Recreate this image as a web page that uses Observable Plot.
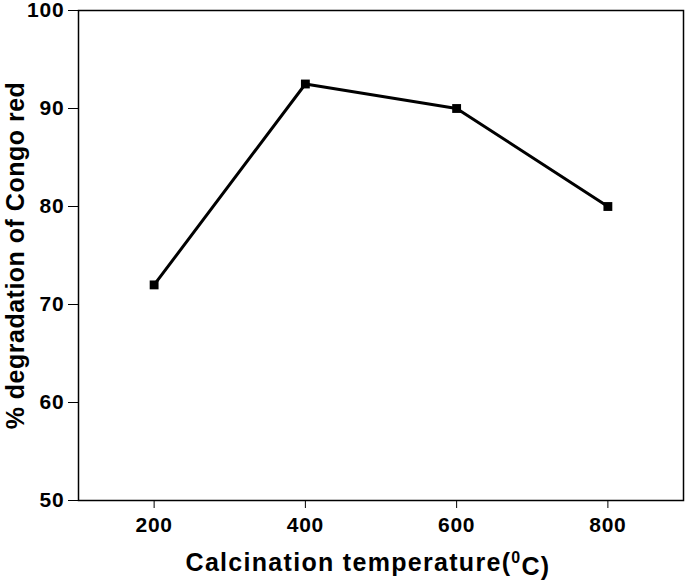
<!DOCTYPE html>
<html>
<head>
<meta charset="utf-8">
<script src="https://cdn.jsdelivr.net/npm/d3@7"></script>
<script src="https://cdn.jsdelivr.net/npm/@observablehq/plot@0.6"></script>
<style>
  html, body { margin: 0; padding: 0; background: #fff; }
  #chart svg { display: block; }
  #chart g[aria-label*='tick label'] text { letter-spacing: 0.8px; }
</style>
</head>
<body>
<div id="chart"></div>
<script>
const temperatures = [200, 400, 600, 800];
const degradation = [72, 92.5, 90, 80];
const xTicks = [200, 400, 600, 800];
const yTicks = [50, 60, 70, 80, 90, 100];

const data = temperatures.map((t, i) => ({t, d: degradation[i]}));
const font = "'Liberation Sans', Arial, sans-serif";

const chart = Plot.plot({
  width: 685,
  height: 580,
  marginLeft: 78,
  marginRight: 2,
  marginTop: 10,
  marginBottom: 80,
  style: {fontFamily: font, fontWeight: "bold", color: "#000", background: "#fff"},
  x: {domain: [100, 900]},
  y: {domain: [50, 100]},
  marks: [
    Plot.frame({stroke: "#000", strokeWidth: 1.5}),
    Plot.axisX({ticks: xTicks, tickSize: 8, tickPadding: 9, fontSize: 21, fontWeight: "bold",
      label: "Calcination temperature(0C)", labelAnchor: "center", labelArrow: "none", labelOffset: 70}),
    Plot.axisY({ticks: yTicks, tickSize: 10, tickPadding: 4, fontSize: 21, fontWeight: "bold",
      label: "% degradation of Congo red", labelAnchor: "center", labelArrow: "none", labelOffset: 72}),
    Plot.line(data, {x: "t", y: "d", stroke: "#000", strokeWidth: 3}),
    Plot.dot(data, {x: "t", y: "d", symbol: "square", r: 5, fill: "#000", stroke: "none"})
  ]
});

const svg = d3.select(chart);
svg.selectAll("g[aria-label='x-axis label'] text, g[aria-label='y-axis label'] text")
  .style("font-size", "25px").style("font-weight", "bold");
svg.selectAll("g[aria-label='x-axis label'] text").style("letter-spacing", "1.3px").attr("dx", -13);
svg.selectAll("g[aria-label='y-axis label'] text").style("letter-spacing", "0.5px");
const xl = svg.select("g[aria-label='x-axis label'] text");
if (!xl.empty()) {
  xl.text(null);
  xl.append("tspan").text("Calcination temperature(");
  xl.append("tspan").attr("dy", "-0.5em").style("font-size", "16px").text("0");
  xl.append("tspan").attr("dy", "0.5em").text("C)");
}
document.getElementById("chart").appendChild(chart);
</script>
</body>
</html>
